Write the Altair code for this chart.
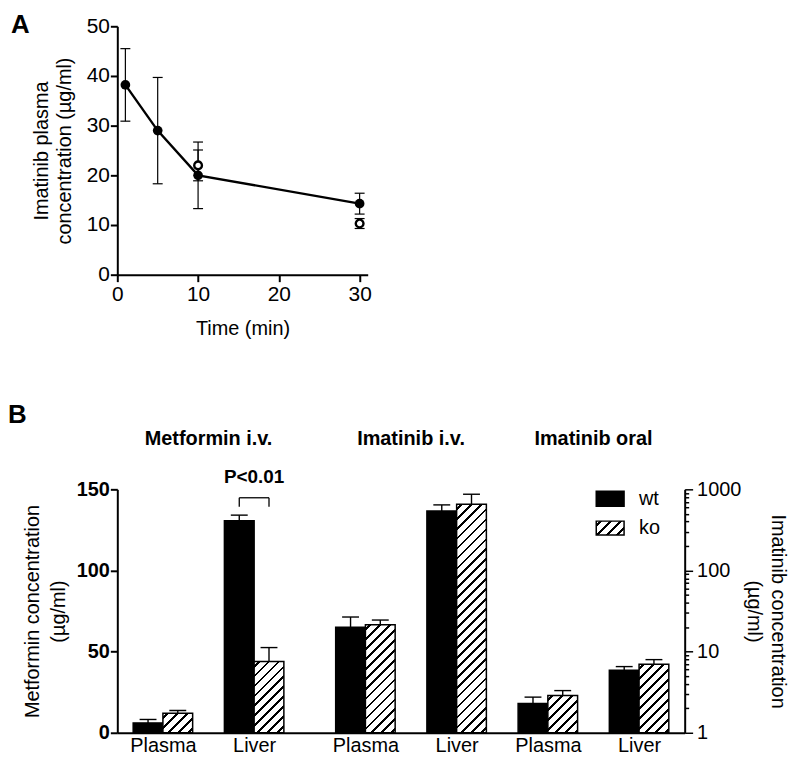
import math
import altair as alt

FONT = "Liberation Sans"

# ---------------- Panel A: imatinib plasma concentration vs time ----------------
time_wt = [1, 5, 10, 30]
conc_wt = [38.2, 29.0, 20.0, 14.3]
sd_wt = [7.3, 10.7, 6.7, 2.1]
time_ko = [10, 30]
conc_ko = [22.0, 10.3]
sd_ko = [3.1, 1.0]
time_ticks = [0, 10, 20, 30]
conc_ticks = [0, 10, 20, 30, 40, 50]

# ---------------- Panel B: tissue concentrations ----------------
groups = ["Metformin i.v.", "Imatinib i.v.", "Imatinib oral"]
tissues = ["Plasma", "Liver"]
metformin_wt = [6.1, 130.7]
metformin_wt_err = [2.1, 3.4]
metformin_ko = [12.1, 43.9]
metformin_ko_err = [1.6, 8.6]
imatinib_iv_wt = [20.0, 542.0]
imatinib_iv_wt_err = [6.7, 101.0]
imatinib_iv_ko = [21.5, 656.0]
imatinib_iv_ko_err = [3.0, 214.0]
imatinib_oral_wt = [2.29, 5.9]
imatinib_oral_wt_err = [0.46, 0.64]
imatinib_oral_ko = [2.88, 7.0]
imatinib_oral_ko_err = [0.43, 0.97]
metformin_ticks = [0, 50, 100, 150]
imatinib_major = [1, 10, 100, 1000]
p_label = "P<0.01"
legend_labels = ["wt", "ko"]

# ---------------- layout ----------------
AW, AH = 252, 250
BWID, BHGT = 571, 245
GAP = 0.22
BAR = 0.326
XMAX = 6 + GAP
unit_px = BWID / XMAX
bar_px = BAR * unit_px


def hatch(w, h, period=10.0, thick=2.8):
    L = w + h
    k = L / (w * w + h * h)
    stops = [{"offset": 0.0, "color": "white"}]
    c = period * 0.5
    while c - thick / 2 < L:
        a = max((c - thick / 2) / L, 0.0)
        b = min((c + thick / 2) / L, 1.0)
        stops += [
            {"offset": round(a, 5), "color": "white"},
            {"offset": round(a, 5), "color": "black"},
            {"offset": round(b, 5), "color": "black"},
            {"offset": round(b, 5), "color": "white"},
        ]
        c += period
    stops.append({"offset": 1.0, "color": "white"})
    return {"gradient": "linear", "x1": 0, "y1": 0, "x2": round(k * w, 6),
            "y2": round(k * h, 6), "stops": stops}


# ================= Panel A =================
rowsA = []
for t, c, e in zip(time_wt, conc_wt, sd_wt):
    rowsA.append({"t": t, "c": c, "lo": c - e, "hi": c + e, "s": "wt"})
for t, c, e in zip(time_ko, conc_ko, sd_ko):
    rowsA.append({"t": t, "c": c, "lo": c - e, "hi": c + e, "s": "ko"})

axA = dict(domainColor="black", domainWidth=2, tickColor="black", tickWidth=2,
           tickSize=7, labelColor="black", labelFont=FONT, labelFontSize=21,
           titleFont=FONT, titleFontSize=20, titleFontWeight="normal",
           titleColor="black", grid=False, labelFlush=False)
xscaleA = alt.Scale(domain=[0, 31], nice=False, zero=True)
yscaleA = alt.Scale(domain=[0, 50], nice=False)
xaxisA = alt.Axis(values=time_ticks, title="Time (min)", labelPadding=2,
                  titlePadding=14, **axA)
yaxisA = alt.Axis(values=conc_ticks, title=["Imatinib plasma", "concentration (µg/ml)"],
                  titleLineHeight=23, labelPadding=1, titlePadding=12, **axA)


def XA(f):
    return alt.X(f"{f}:Q", scale=xscaleA, axis=xaxisA)


def YA(f):
    return alt.Y(f"{f}:Q", scale=yscaleA, axis=yaxisA)


baseA = alt.Chart(alt.Data(values=rowsA))
errA = baseA.mark_rule(color="black", strokeWidth=1.2).encode(x=XA("t"), y=YA("lo"), y2="hi:Q")
capLoA = baseA.mark_tick(orient="horizontal", size=10, thickness=1.2, color="black",
                         opacity=1).encode(x=XA("t"), y=YA("lo"))
capHiA = baseA.mark_tick(orient="horizontal", size=10, thickness=1.2, color="black",
                         opacity=1).encode(x=XA("t"), y=YA("hi"))
lineA = baseA.transform_filter("datum.s == 'wt'").mark_line(
    color="black", strokeWidth=2.4).encode(x=XA("t"), y=YA("c"))
ptsWtA = baseA.transform_filter("datum.s == 'wt'").mark_point(
    shape="circle", filled=True, color="black", size=95, opacity=1).encode(x=XA("t"), y=YA("c"))
ptsKoA = baseA.transform_filter("datum.s == 'ko'").mark_point(
    shape="circle", filled=True, fill="white", stroke="black", strokeWidth=2.4, size=60,
    opacity=1).encode(x=XA("t"), y=YA("c"))
labA = alt.Chart(alt.Data(values=[{"lab": "A"}])).mark_text(
    font=FONT, fontSize=26, fontWeight="bold", align="left", baseline="middle",
    color="black").encode(x=alt.value(-107), y=alt.value(-1), text="lab:N")

panelA = alt.layer(errA, capLoA, capHiA, lineA, ptsWtA, ptsKoA, labA).properties(
    width=AW, height=AH)

# ================= Panel B =================
b_series = [
    (metformin_wt, metformin_wt_err, metformin_ko, metformin_ko_err),
    (imatinib_iv_wt, imatinib_iv_wt_err, imatinib_iv_ko, imatinib_iv_ko_err),
    (imatinib_oral_wt, imatinib_oral_wt_err, imatinib_oral_ko, imatinib_oral_ko_err),
]


def pair_center(p):
    return p + 0.5 + (GAP if p >= 2 else 0.0)


met_rows, ima_rows, centers, center_labels = [], [], [], []
for gi, (wt, wte, ko, koe) in enumerate(b_series):
    for ti in range(2):
        c = pair_center(gi * 2 + ti)
        centers.append(round(c, 4))
        center_labels.append(tissues[ti])
        for geno, vals, errs, x0 in (("wt", wt, wte, c - BAR), ("ko", ko, koe, c)):
            v = vals[ti]
            e = errs[ti]
            if gi == 0:
                h = v / 150.0 * BHGT
            else:
                h = math.log10(v) / 3.0 * BHGT
            fill = "black" if geno == "wt" else hatch(bar_px, h)
            row = {"x0": x0, "x1": x0 + BAR, "xc": x0 + BAR / 2, "v": v, "hi": v + e,
                   "fill": fill}
            (met_rows if gi == 0 else ima_rows).append(row)

label_expr = " : ".join(
    f"abs(datum.value - {c}) < 0.01 ? '{lab}'" for c, lab in zip(centers, center_labels)
) + " : ''"

xscaleB = alt.Scale(domain=[0, XMAX], nice=False, zero=False)
xaxisB = alt.Axis(values=centers, labelExpr=label_expr, ticks=False, domainColor="black",
                  domainWidth=2, labelColor="black", labelFont=FONT, labelFontSize=20,
                  labelPadding=3, title=None, grid=False, labelFlush=False)
yscaleM = alt.Scale(domain=[0, 150], nice=False)
yaxisM = alt.Axis(values=metformin_ticks, tickSize=7, tickWidth=2, tickColor="black",
                  domainColor="black", domainWidth=2, labelFont=FONT, labelFontSize=20,
                  labelFontWeight="bold", labelColor="black", labelPadding=1,
                  title=["Metformin concentration", "(µg/ml)"], titleFont=FONT,
                  titleFontSize=20, titleFontWeight="normal", titleColor="black",
                  titleLineHeight=26, titlePadding=8, grid=False)
ima_ticks = [m * 10 ** e for e in range(3) for m in range(1, 10)] + [1000]
major_test = "indexof(" + str(imatinib_major) + ", datum.value) >= 0"
yscaleI = alt.Scale(type="log", domain=[1, 1000], nice=False)
yaxisI = alt.Axis(orient="right", values=ima_ticks,
                  labelExpr=major_test + " ? format(datum.value, 'd') : ''",
                  labelOverlap=False,
                  tickSize={"condition": {"test": major_test, "value": 8}, "value": 4},
                  tickWidth=1.5, tickColor="black", domainColor="black", domainWidth=2,
                  labelFont=FONT, labelFontSize=20, labelColor="black", labelPadding=4,
                  title=["Imatinib concentration", "(µg/ml)"], titleFont=FONT,
                  titleFontSize=20, titleFontWeight="normal", titleColor="black",
                  titleLineHeight=24, titlePadding=3, grid=False)


def XB(f):
    return alt.X(f"{f}:Q", scale=xscaleB, axis=xaxisB)


def YM(f):
    return alt.Y(f"{f}:Q", scale=yscaleM, axis=yaxisM)


def YI(f):
    return alt.Y(f"{f}:Q", scale=yscaleI, axis=yaxisI)


baseM = alt.Chart(alt.Data(values=met_rows))
barsM = baseM.mark_bar(stroke="black", strokeWidth=1.5).encode(
    x=XB("x0"), x2="x1:Q", y=YM("v"), y2=alt.datum(0),
    fill=alt.Fill("fill:N", scale=None))
errM = baseM.mark_rule(color="black", strokeWidth=1.4).encode(x=XB("xc"), y=YM("v"), y2="hi:Q")
capM = baseM.mark_tick(orient="horizontal", size=17, thickness=1.4, color="black",
                       opacity=1).encode(x=XB("xc"), y=YM("hi"))

# significance bracket over metformin liver bars
liver_c = pair_center(1)
br_top = max(metformin_wt[1] + metformin_wt_err[1], metformin_ko[1] + metformin_ko_err[1]) + 10.7
br_bot = br_top - 5.5
xa, xb = liver_c - BAR / 2, liver_c + BAR / 2
br_rows = [
    {"xa": xa, "xb": xb, "ya": br_top, "yb": br_top},
    {"xa": xa, "xb": xa, "ya": br_top, "yb": br_bot},
    {"xa": xb, "xb": xb, "ya": br_top, "yb": br_bot},
]
bracket = alt.Chart(alt.Data(values=br_rows)).mark_rule(color="black", strokeWidth=1.3).encode(
    x=XB("xa"), x2="xb:Q", y=YM("ya"), y2="yb:Q")
ptext = alt.Chart(alt.Data(values=[{"lab": p_label, "x": liver_c}])).mark_text(
    font=FONT, fontSize=19, fontWeight="bold", baseline="alphabetic", color="black").encode(
    x=XB("x"), y=alt.value(-6), text="lab:N")

grp_rows = [{"g": g, "x": (pair_center(2 * i) + pair_center(2 * i + 1)) / 2}
            for i, g in enumerate(groups)]
grpText = alt.Chart(alt.Data(values=grp_rows)).mark_text(
    font=FONT, fontSize=20, fontWeight="bold", baseline="alphabetic", color="black").encode(
    x=XB("x"), y=alt.value(-45), text="g:N")

labB = alt.Chart(alt.Data(values=[{"lab": "B"}])).mark_text(
    font=FONT, fontSize=26, fontWeight="bold", align="left", baseline="middle",
    color="black").encode(x=alt.value(-110), y=alt.value(-75), text="lab:N")

legWt = alt.Chart(alt.Data(values=[{"lab": legend_labels[0]}])).mark_rect(
    fill="black", stroke="black", strokeWidth=1.5).encode(
    x=alt.value(482), x2=alt.value(510), y=alt.value(2), y2=alt.value(17))
legKo = alt.Chart(alt.Data(values=[{"lab": legend_labels[1]}])).mark_rect(
    fill=hatch(28, 14), stroke="black", strokeWidth=1.5).encode(
    x=alt.value(482), x2=alt.value(510), y=alt.value(32), y2=alt.value(46))
legTxtWt = alt.Chart(alt.Data(values=[{"lab": legend_labels[0]}])).mark_text(
    font=FONT, fontSize=20, align="left", baseline="middle", color="black").encode(
    x=alt.value(525), y=alt.value(10), text="lab:N")
legTxtKo = alt.Chart(alt.Data(values=[{"lab": legend_labels[1]}])).mark_text(
    font=FONT, fontSize=20, align="left", baseline="middle", color="black").encode(
    x=alt.value(525), y=alt.value(39), text="lab:N")

layerM = alt.layer(barsM, errM, capM, bracket, ptext, grpText, labB,
                   legWt, legKo, legTxtWt, legTxtKo)

baseI = alt.Chart(alt.Data(values=ima_rows))
barsI = baseI.mark_bar(stroke="black", strokeWidth=1.5).encode(
    x=XB("x0"), x2="x1:Q", y=YI("v"), y2=alt.datum(1),
    fill=alt.Fill("fill:N", scale=None))
errI = baseI.mark_rule(color="black", strokeWidth=1.4).encode(x=XB("xc"), y=YI("v"), y2="hi:Q")
capI = baseI.mark_tick(orient="horizontal", size=17, thickness=1.4, color="black",
                       opacity=1).encode(x=XB("xc"), y=YI("hi"))
layerI = alt.layer(barsI, errI, capI)

panelB = alt.layer(layerM, layerI).resolve_scale(y="independent").properties(
    width=BWID, height=BHGT)

chart = alt.vconcat(panelA, panelB, spacing=64).properties(
    padding={"left": 0, "top": 2, "right": 4, "bottom": 2}
).configure_view(stroke=None)

chart.save("out.html", embed_options={"renderer": "svg", "actions": False})
